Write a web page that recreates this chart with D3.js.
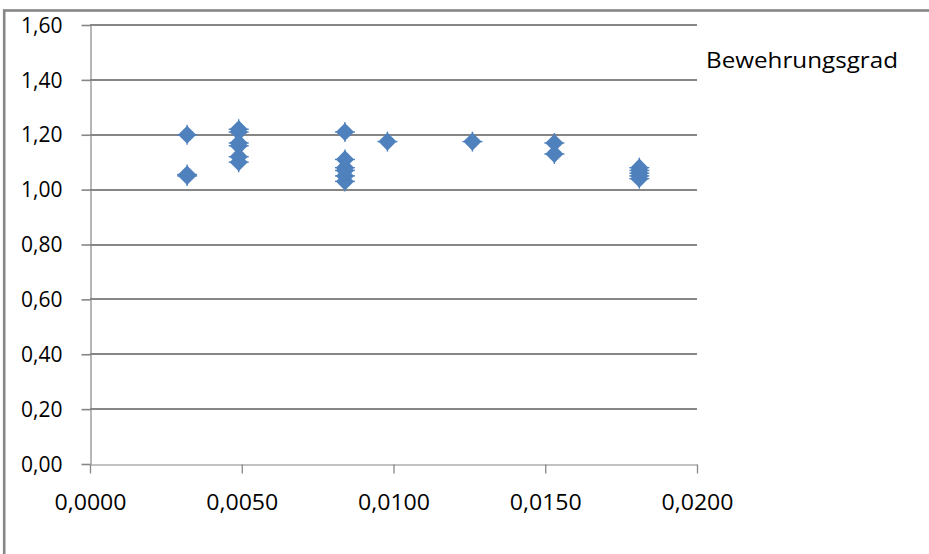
<!DOCTYPE html>
<html>
<head>
<meta charset="utf-8">
<script src="https://cdn.jsdelivr.net/npm/d3@7"></script>
<style>
  html, body { margin: 0; padding: 0; background: #fff; }
  svg { display: block; }
  text { font-family: "Open Sans", "Liberation Sans", sans-serif; fill: #000; }
</style>
</head>
<body>
<svg id="chart" width="929" height="554"></svg>
<script>
// Bewehrungsgrad (x) against ratio (y)
const seriesName = "Bewehrungsgrad";
const rho = [
  0.0032, 0.0032, 0.0032,
  0.0049, 0.0049, 0.0049, 0.0049, 0.0049, 0.0049,
  0.0084, 0.0084, 0.0084, 0.0084, 0.0084, 0.0084,
  0.0098,
  0.0126,
  0.0153, 0.0153,
  0.0181, 0.0181, 0.0181, 0.0181, 0.0181
];
const ratio = [
  1.20, 1.05, 1.055,
  1.22, 1.21, 1.17, 1.16, 1.12, 1.10,
  1.21, 1.11, 1.08, 1.07, 1.05, 1.03,
  1.175,
  1.175,
  1.17, 1.13,
  1.08, 1.07, 1.06, 1.05, 1.04
];
const xTicks = [0, 0.005, 0.010, 0.015, 0.020];
const yTicks = [0, 0.2, 0.4, 0.6, 0.8, 1.0, 1.2, 1.4, 1.6];

const de = d3.formatLocale({ decimal: ",", thousands: ".", grouping: [3], currency: ["", " €"] });
const fmtX = de.format(".4f");
const fmtY = de.format(".2f");

const svg = d3.select("#chart");
const grey = "#868686";
const blue = "#4F81BD";

// outer chart frame (only top and left edges fall inside the view)
svg.append("rect")
  .attr("x", 4.2).attr("y", 10.5)
  .attr("width", 1000).attr("height", 1000)
  .attr("fill", "none").attr("stroke", grey).attr("stroke-width", 2.6);

const x = d3.scaleLinear().domain([0, 0.02]).range([90, 697]);
const y = d3.scaleLinear().domain([0, 1.6]).range([464, 25]);

// horizontal gridlines
svg.append("g")
  .selectAll("line")
  .data(yTicks.filter(v => v > 0))
  .join("line")
  .attr("x1", 90).attr("x2", x(0.02))
  .attr("y1", d => Math.round(y(d))).attr("y2", d => Math.round(y(d)))
  .attr("stroke", grey).attr("stroke-width", 1.8);

// y axis
const yAxis = svg.append("g")
  .attr("transform", "translate(90.5,0)")
  .call(d3.axisLeft(y).tickValues(yTicks).tickFormat(fmtY).tickSizeInner(9).tickSizeOuter(0).tickPadding(19));
yAxis.select(".domain").attr("stroke", grey).attr("stroke-width", 1.2);
yAxis.selectAll(".tick line").attr("stroke", grey).attr("stroke-width", 1.6);
yAxis.selectAll("text")
  .attr("font-size", 21).attr("font-family", "'Open Sans', sans-serif").attr("fill", "#000")
  .attr("dy", "0.34em");

// x axis (labels slightly widened around their tick centre)
const xAxis = svg.append("g")
  .attr("transform", "translate(0,464.5)")
  .call(d3.axisBottom(x).tickValues(xTicks).tickFormat(fmtX).tickSizeInner(9).tickSizeOuter(0).tickPadding(22));
xAxis.select(".domain").attr("stroke", grey).attr("stroke-width", 1.2);
xAxis.selectAll(".tick line").attr("stroke", grey).attr("stroke-width", 1.3);
xAxis.selectAll("text")
  .attr("font-size", 21).attr("font-family", "'Open Sans', sans-serif").attr("fill", "#000")
  .attr("transform", "scale(1.1,1)");

// markers: filled diamond with a thin cross through its tips
const pts = rho.map((r, i) => ({ r, v: ratio[i] }));
const diamond = d3.symbol().type(d3.symbolSquare).size(165);
svg.append("g")
  .selectAll("g.pt")
  .data(pts)
  .join("g")
  .attr("class", "pt")
  .attr("transform", d => `translate(${x(d.r)},${y(d.v)})`)
  .each(function () {
    const g = d3.select(this);
    g.append("path").attr("d", diamond()).attr("transform", "rotate(45)").attr("fill", blue);
    g.append("line").attr("x1", -10).attr("x2", 10).attr("y1", 0).attr("y2", 0).attr("stroke", blue).attr("stroke-width", 1.4);
    g.append("line").attr("y1", -10).attr("y2", 10).attr("x1", 0).attr("x2", 0).attr("stroke", blue).attr("stroke-width", 1.4);
  });

// legend
svg.append("text")
  .attr("x", 706).attr("y", 68)
  .attr("font-size", 21)
  .attr("textLength", 192).attr("lengthAdjust", "spacingAndGlyphs")
  .text(seriesName);
</script>
</body>
</html>
